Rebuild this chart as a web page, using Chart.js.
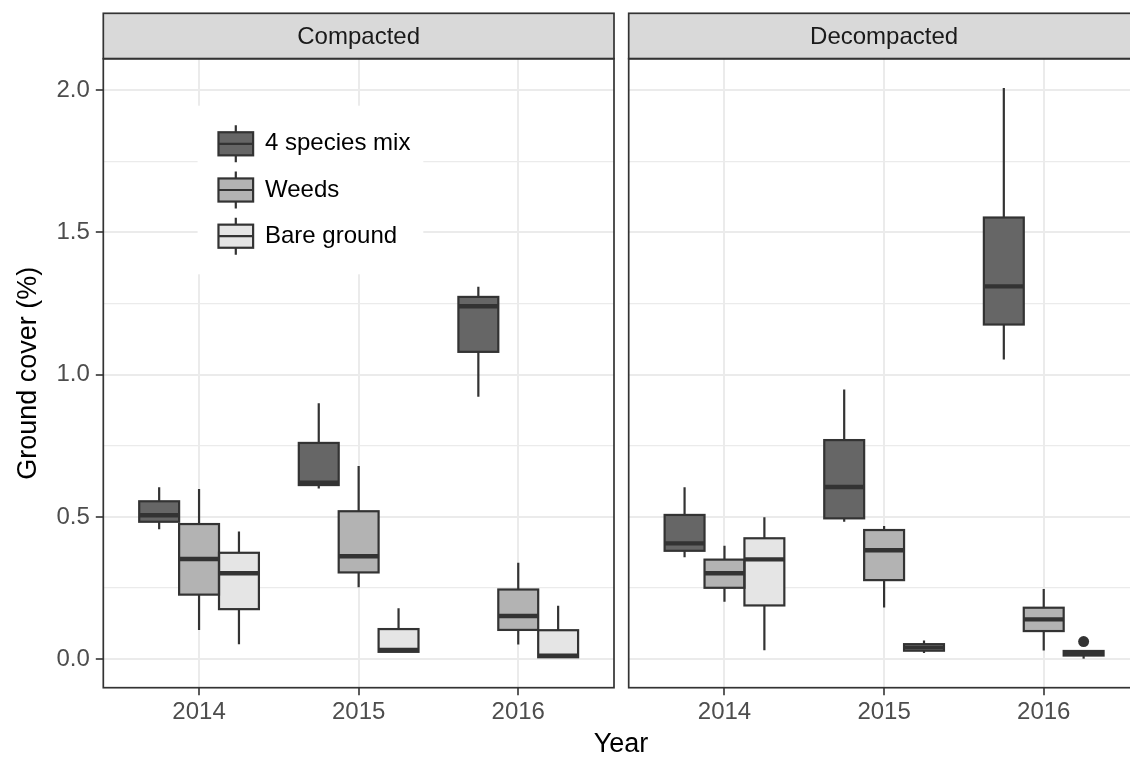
<!DOCTYPE html>
<html>
<head>
<meta charset="utf-8">
<script src="https://cdn.jsdelivr.net/npm/chart.js@4/dist/chart.umd.min.js"></script>
<style>
  html, body { margin:0; padding:0; background:#ffffff; }
  body { width:1130px; height:759px; position:relative; overflow:hidden; }
  canvas { position:absolute; top:0; }
  #xtitle { position:absolute; left:521px; width:200px; top:728px; text-align:center;
            font:27px "Liberation Sans", Arial, sans-serif; line-height:30px; color:#000; }
</style>
</head>
<body>
<canvas id="cA" width="621" height="759" style="left:0px"></canvas>
<canvas id="cB" width="526" height="759" style="left:621px"></canvas>
<div id="xtitle">Year</div>
<script>
// ---------------- data ----------------
const years = ["2014", "2015", "2016"];
const seriesNames = ["4 species mix", "Weeds", "Bare ground"];
const panels = ["Compacted", "Decompacted"];
const yMajorTicks = [0, 0.5, 1.0, 1.5, 2.0];
const yMinorTicks = [0.25, 0.75, 1.25, 1.75];

// five-number summaries per year: [min, q1, median, q3, max]
const compactedMix   = [[0.457, 0.483, 0.506, 0.555, 0.604], [0.600, 0.612, 0.620, 0.760, 0.899], [0.922, 1.080, 1.240, 1.273, 1.309]];
const compactedWeeds = [[0.103, 0.227, 0.352, 0.475, 0.598], [0.253, 0.305, 0.362, 0.520, 0.679], [0.052, 0.103, 0.152, 0.245, 0.339]];
const compactedBare  = [[0.053, 0.176, 0.302, 0.374, 0.449], [0.025, 0.026, 0.033, 0.106, 0.179], [0.005, 0.007, 0.012, 0.102, 0.188]];

const decompactedMix   = [[0.358, 0.381, 0.407, 0.507, 0.604], [0.483, 0.495, 0.605, 0.770, 0.948], [1.053, 1.176, 1.310, 1.552, 2.007]];
const decompactedWeeds = [[0.202, 0.251, 0.302, 0.350, 0.399], [0.182, 0.278, 0.383, 0.454, 0.468], [0.031, 0.099, 0.140, 0.181, 0.247]];
const decompactedBare  = [[0.032, 0.189, 0.351, 0.425, 0.499], [0.022, 0.030, 0.041, 0.053, 0.066], [0.002, 0.013, 0.020, 0.029, 0.029]];

// outliers per year
const noOutliers = [[], [], []];
const decompactedBareOutliers = [[], [], [0.062]];

// ---------------- styling ----------------
const FONT = '"Liberation Sans", Arial, Helvetica, sans-serif';
Chart.defaults.font.family = FONT;
const fills = ["#666666", "#b3b3b3", "#e5e5e5"];
const INK = "#333333";
const GRID = "#ebebeb";

const isMajor = v => Math.abs(v * 2 - Math.round(v * 2)) < 1e-9;

const boxPlugin = {
  id: 'boxes',
  afterDatasetsDraw(chart) {
    const ctx = chart.ctx;
    const ys = chart.scales.y;
    const py = v => ys.getPixelForValue(v);
    ctx.save();
    ctx.strokeStyle = INK;
    ctx.fillStyle = INK;
    ctx.lineCap = 'butt';
    chart.data.datasets.forEach((ds, di) => {
      const meta = chart.getDatasetMeta(di);
      meta.data.forEach((bar, i) => {
        const st = ds.stats[i];
        const p = bar.getProps(['x', 'width'], true);
        const x = p.x, half = p.width / 2;
        ctx.lineWidth = 2.2;
        ctx.beginPath();
        ctx.moveTo(x, py(st[3])); ctx.lineTo(x, py(st[4]));
        ctx.moveTo(x, py(st[1])); ctx.lineTo(x, py(st[0]));
        ctx.stroke();
        ctx.strokeRect(x - half, py(st[3]), p.width, py(st[1]) - py(st[3]));
        ctx.lineWidth = 4.4;
        ctx.beginPath();
        ctx.moveTo(x - half, py(st[2])); ctx.lineTo(x + half, py(st[2]));
        ctx.stroke();
        (ds.outliers[i] || []).forEach(v => {
          ctx.beginPath();
          ctx.arc(x, py(v), 5.5, 0, Math.PI * 2);
          ctx.fill();
        });
      });
    });
    ctx.restore();
  }
};

const legendPlugin = {
  id: 'boxLegend',
  afterDraw(chart) {
    const ctx = chart.ctx;
    const k = 46.2, keyX = 212.7, keyY0 = 120.7, textX = 265;
    ctx.save();
    ctx.fillStyle = '#ffffff';
    ctx.fillRect(197.6, 105.7, 225.7, 168.6);
    seriesNames.forEach((name, i) => {
      const top = keyY0 + i * k;
      const cx = keyX + k / 2;
      ctx.strokeStyle = INK;
      ctx.lineWidth = 2.2;
      ctx.beginPath();
      ctx.moveTo(cx, top + 0.1 * k); ctx.lineTo(cx, top + 0.25 * k);
      ctx.moveTo(cx, top + 0.75 * k); ctx.lineTo(cx, top + 0.9 * k);
      ctx.stroke();
      ctx.fillStyle = fills[i];
      ctx.fillRect(cx - 0.375 * k, top + 0.25 * k, 0.75 * k, 0.5 * k);
      ctx.strokeRect(cx - 0.375 * k, top + 0.25 * k, 0.75 * k, 0.5 * k);
      ctx.beginPath();
      ctx.moveTo(keyX + 0.125 * k, top + 0.5 * k); ctx.lineTo(keyX + 0.875 * k, top + 0.5 * k);
      ctx.stroke();
      ctx.fillStyle = '#000000';
      ctx.font = '24px ' + FONT;
      ctx.textAlign = 'left';
      ctx.textBaseline = 'middle';
      ctx.fillText(name, textX, top + k / 2);
    });
    ctx.restore();
  }
};

const framePlugin = {
  id: 'frame',
  afterDraw(chart) {
    const ctx = chart.ctx;
    const a = chart.chartArea;
    const stripTop = 13.3;
    ctx.save();
    ctx.fillStyle = '#d9d9d9';
    ctx.fillRect(a.left, stripTop, a.right - a.left, a.top - stripTop);
    ctx.strokeStyle = INK;
    ctx.lineWidth = 1.7;
    ctx.strokeRect(a.left, stripTop, a.right - a.left, a.top - stripTop);
    ctx.fillStyle = '#1a1a1a';
    ctx.font = '24px ' + FONT;
    ctx.textAlign = 'center';
    ctx.textBaseline = 'middle';
    ctx.fillText(chart.options.panelName, (a.left + a.right) / 2, (stripTop + a.top) / 2 + 1);
    ctx.strokeRect(a.left, a.top, a.right - a.left, a.bottom - a.top);
    ctx.restore();
  }
};

function makePanel(canvasId, panelName, stats, outliers, showY, padding, withLegend) {
  const datasets = seriesNames.map((name, s) => ({
    label: name,
    data: stats[s].map((st, i) => ({ x: i + 1, y: [st[1], st[3]] })),
    backgroundColor: fills[s],
    borderWidth: 0,
    stats: stats[s],
    outliers: outliers[s]
  }));
  const yTickValues = [...yMajorTicks, ...yMinorTicks].sort((a, b) => a - b);
  return new Chart(document.getElementById(canvasId), {
    type: 'bar',
    data: { datasets },
    options: {
      panelName,
      responsive: false,
      animation: false,
      devicePixelRatio: 1,
      events: [],
      layout: { padding },
      datasets: { bar: { categoryPercentage: 0.75, barPercentage: 1.0, grouped: true } },
      plugins: { legend: { display: false }, tooltip: { enabled: false }, title: { display: false } },
      scales: {
        x: {
          type: 'linear',
          offset: false,
          min: 0.4, max: 3.6,
          afterBuildTicks: s => { s.ticks = years.map((_, i) => ({ value: i + 1 })); },
          afterFit: s => { s.height = 71.3; },
          ticks: {
            callback: (v, i) => years[i],
            color: '#4d4d4d', font: { size: 24 }, padding: 3,
            autoSkip: false, maxRotation: 0, minRotation: 0
          },
          grid: { offset: false, color: GRID, lineWidth: 2, drawTicks: true, tickLength: 7.5, tickColor: INK, tickWidth: 1.6 },
          border: { display: false }
        },
        y: {
          type: 'linear',
          min: -0.1, max: 2.11,
          afterBuildTicks: s => { s.ticks = yTickValues.map(v => ({ value: v })); },
          afterFit: s => { s.width = showY ? 103.3 : 0; },
          ticks: {
            display: showY,
            callback: v => isMajor(v) ? v.toFixed(1) : '',
            color: '#4d4d4d', font: { size: 24 }, padding: 6, autoSkip: false
          },
          grid: {
            color: GRID,
            lineWidth: c => (c.tick && isMajor(c.tick.value)) ? 2 : 1.2,
            drawTicks: showY, tickLength: 7.5,
            tickColor: c => (c.tick && isMajor(c.tick.value)) ? INK : 'rgba(0,0,0,0)',
            tickWidth: 1.6
          },
          border: { display: false },
          title: {
            display: showY, text: 'Ground cover (%)', color: '#000000',
            font: { size: 27 }, padding: { top: 12, bottom: 0 }
          }
        }
      }
    },
    plugins: withLegend ? [boxPlugin, legendPlugin, framePlugin] : [boxPlugin, framePlugin]
  });
}

makePanel('cA', panels[0], [compactedMix, compactedWeeds, compactedBare],
  [noOutliers, noOutliers, noOutliers], true, { top: 58.7, right: 7, bottom: 0, left: 0 }, true);
makePanel('cB', panels[1], [decompactedMix, decompactedWeeds, decompactedBare],
  [noOutliers, noOutliers, decompactedBareOutliers], false, { top: 58.7, right: 7.5, bottom: 0, left: 7.7 }, false);
</script>
</body>
</html>
